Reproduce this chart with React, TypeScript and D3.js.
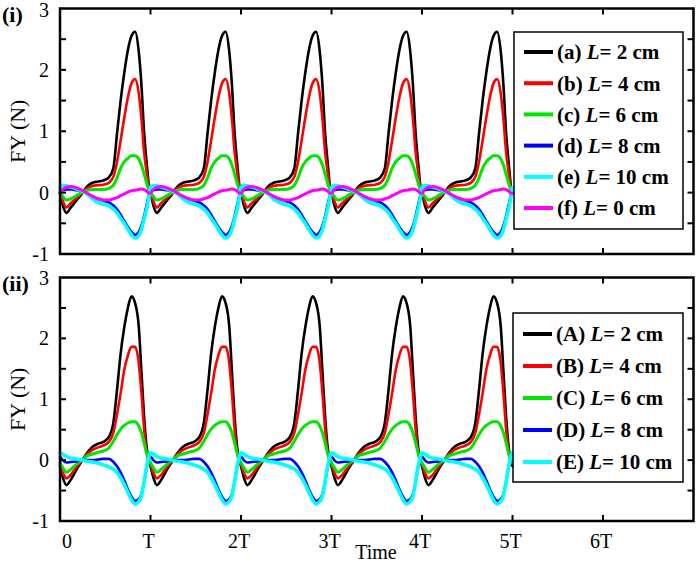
import * as d3 from 'd3'

// one period of each curve, repeated for every cycle
const PHASE = [0, 0.03, 0.07, 0.12, 0.18, 0.24, 0.3, 0.36, 0.42, 0.48, 0.54, 0.59, 0.63, 0.67, 0.71, 0.75, 0.79, 0.83, 0.87, 0.9, 0.93, 0.96, 0.985]
const CYCLES = 5

// panel (i)
const I_L2 = [0, -0.2, -0.33, -0.24, -0.13, -0.02, 0.1, 0.16, 0.18, 0.2, 0.25, 0.4, 0.96, 1.5, 1.95, 2.32, 2.55, 2.62, 2.3, 1.75, 0.96, 0.45, 0.08]
const I_L4 = [0, -0.13, -0.24, -0.17, -0.09, -0.01, 0.07, 0.11, 0.12, 0.13, 0.16, 0.26, 0.5, 0.85, 1.22, 1.55, 1.78, 1.85, 1.62, 1.2, 0.65, 0.3, 0.06]
const I_L6 = [0, -0.06, -0.12, -0.1, -0.05, 0, 0.04, 0.05, 0.05, 0.05, 0.07, 0.12, 0.24, 0.4, 0.5, 0.56, 0.6, 0.6, 0.55, 0.45, 0.3, 0.14, 0.03]
const I_L8 = [0.03, 0.04, 0.05, 0.05, 0.04, 0.03, -0.01, -0.06, -0.1, -0.13, -0.16, -0.21, -0.27, -0.36, -0.46, -0.56, -0.64, -0.69, -0.64, -0.54, -0.38, -0.18, -0.03]
const I_L10 = [0.08, 0.12, 0.11, 0.09, 0.06, 0.03, -0.02, -0.1, -0.16, -0.19, -0.22, -0.27, -0.33, -0.42, -0.5, -0.6, -0.69, -0.74, -0.7, -0.6, -0.43, -0.25, -0.05]
const I_L0 = [-0.01, 0.05, 0.09, 0.1, 0.08, 0.04, -0.01, -0.06, -0.1, -0.12, -0.12, -0.1, -0.08, -0.05, -0.02, 0.01, 0.03, 0.04, 0.05, 0.06, 0.05, 0.02, -0.01]

// panel (ii)
const II_L2 = [-0.1, -0.28, -0.41, -0.32, -0.16, -0.02, 0.12, 0.22, 0.27, 0.3, 0.38, 0.62, 1.15, 1.75, 2.18, 2.5, 2.69, 2.58, 2.2, 1.45, 0.7, 0.18, -0.02]
const II_L4 = [-0.07, -0.2, -0.3, -0.24, -0.12, -0.01, 0.1, 0.17, 0.21, 0.24, 0.3, 0.45, 0.75, 1.1, 1.48, 1.72, 1.86, 1.86, 1.6, 1.1, 0.5, 0.1, -0.03]
const II_L6 = [-0.04, -0.12, -0.2, -0.15, -0.07, 0, 0.07, 0.1, 0.13, 0.15, 0.2, 0.31, 0.42, 0.51, 0.57, 0.61, 0.63, 0.63, 0.56, 0.45, 0.28, 0.1, 0]
const II_L8 = [0.06, 0, -0.04, -0.03, -0.02, 0, 0, 0, 0.01, 0.02, 0.02, -0.03, -0.1, -0.2, -0.33, -0.48, -0.6, -0.67, -0.64, -0.56, -0.35, -0.1, 0.04]
const II_L10 = [0.12, 0.1, 0.06, 0.03, 0.02, 0, -0.02, -0.03, -0.05, -0.08, -0.11, -0.15, -0.2, -0.29, -0.4, -0.53, -0.65, -0.72, -0.68, -0.59, -0.35, -0.08, 0.07]

const X_TICKS = [1, 2, 3, 4, 5, 6]
const X_LABELS = ['0', 'T', '2T', '3T', '4T', '5T', '6T']
const Y_TICKS = [-0.5, 0, 0.5, 1, 1.5, 2, 2.5]
const Y_LABELS = [-1, 0, 1, 2, 3]

const W = 699
const H = 570
const FONT = '"Liberation Serif", "Times New Roman", serif'

interface Series { tag: string; len: number; values: number[]; color: string; width: number }

const PANEL_I: Series[] = [
  { tag: '(a)', len: 2, values: I_L2, color: '#000000', width: 2.6 },
  { tag: '(b)', len: 4, values: I_L4, color: '#ff0000', width: 2.6 },
  { tag: '(c)', len: 6, values: I_L6, color: '#00e600', width: 3 },
  { tag: '(d)', len: 8, values: I_L8, color: '#0000ff', width: 2.6 },
  { tag: '(e)', len: 10, values: I_L10, color: '#00ffff', width: 3.6 },
  { tag: '(f)', len: 0, values: I_L0, color: '#ff00ff', width: 3 },
]

const PANEL_II: Series[] = [
  { tag: '(A)', len: 2, values: II_L2, color: '#000000', width: 2.6 },
  { tag: '(B)', len: 4, values: II_L4, color: '#ff0000', width: 2.6 },
  { tag: '(C)', len: 6, values: II_L6, color: '#00e600', width: 3 },
  { tag: '(D)', len: 8, values: II_L8, color: '#0000ff', width: 2.6 },
  { tag: '(E)', len: 10, values: II_L10, color: '#00ffff', width: 3.6 },
]

function tile(values: number[]) {
  const pts: [number, number][] = []
  for (let k = 0; k < CYCLES; k++) {
    PHASE.forEach((p, i) => pts.push([k + p, values[i]]))
  }
  pts.push([CYCLES, values[0]])
  return pts
}

interface PanelProps {
  series: Series[]
  top: number
  bottom: number
  label: string
  legend: { x0: number; x1: number; y0: number; y1: number; first: number; step: number }
  xLabels: boolean
}

function Panel({ series, top, bottom, label, legend, xLabels }: PanelProps) {
  const x = d3.scaleLinear().domain([0, 7]).range([60, 693.5])
  const y = d3.scaleLinear().domain([-1, 3]).range([bottom, top])
  const line = d3.line<[number, number]>()
    .x(d => x(d[0]))
    .y(d => y(d[1]))
    .curve(d3.curveMonotoneX)
  const tk = 6

  return (
    <g>
      {series.map(s => (
        <path key={s.tag} d={line(tile(s.values)) || ''} fill="none" stroke={s.color}
          strokeWidth={s.width} strokeLinejoin="round" strokeLinecap="round" />
      ))}

      {/* frame + inward ticks */}
      <rect x={x(0)} y={top} width={x(7) - x(0)} height={bottom - top} fill="none" stroke="#000" strokeWidth={2.5} />
      {X_TICKS.map(t => (
        <g key={'x' + t}>
          <line x1={x(t)} x2={x(t)} y1={bottom} y2={bottom - tk} stroke="#000" strokeWidth={2} />
          <line x1={x(t)} x2={x(t)} y1={top} y2={top + tk} stroke="#000" strokeWidth={2} />
        </g>
      ))}
      {Y_TICKS.map(t => (
        <g key={'y' + t}>
          <line x1={x(0)} x2={x(0) + tk} y1={y(t)} y2={y(t)} stroke="#000" strokeWidth={2} />
          <line x1={x(7)} x2={x(7) - tk} y1={y(t)} y2={y(t)} stroke="#000" strokeWidth={2} />
        </g>
      ))}
      {Y_LABELS.map(v => (
        <text key={'yl' + v} x={49} y={Math.max(y(v), 10)} dy="0.35em" textAnchor="end" fontSize={20} fontFamily={FONT}>{v}</text>
      ))}
      {xLabels && X_LABELS.map((l, i) => (
        <text key={'xl' + l} x={i === 0 ? x(i) + 7 : x(i) - 2} y={bottom + 27} textAnchor="middle" fontSize={20} fontFamily={FONT}>{l}</text>
      ))}

      <text transform={`translate(25,${y(1)}) rotate(-90)`} textAnchor="middle" fontSize={22} fontFamily={FONT}>FY (N)</text>
      <text x={2} y={top + 13} fontSize={22} fontWeight="bold" fontFamily={FONT}>{label}</text>

      {/* legend */}
      <rect x={legend.x0} y={legend.y0} width={legend.x1 - legend.x0} height={legend.y1 - legend.y0}
        fill="#fff" stroke="#000" strokeWidth={1.5} />
      {series.map((s, i) => {
        const ly = legend.first + i * legend.step
        return (
          <g key={'lg' + s.tag}>
            <line x1={legend.x0 + 10} x2={legend.x0 + 39} y1={ly} y2={ly} stroke={s.color} strokeWidth={4} />
            <text x={legend.x0 + 43} y={ly} dy="0.35em" fontSize={21} fontWeight="bold" fontFamily={FONT}>
              {s.tag} <tspan fontStyle="italic">L</tspan>= {s.len} cm
            </text>
          </g>
        )
      })}
    </g>
  )
}

export default function App() {
  return (
    <svg width={W} height={H} style={{ position: 'absolute', left: 0, top: 0, background: '#fff' }}>
      <Panel series={PANEL_I} top={8.5} bottom={254} label="(i)" xLabels={false}
        legend={{ x0: 514, x1: 683, y0: 32, y1: 229, first: 52, step: 31.2 }} />
      <Panel series={PANEL_II} top={277.5} bottom={521} label="(ii)" xLabels={true}
        legend={{ x0: 513, x1: 683, y0: 313, y1: 482, first: 334, step: 32 }} />
      <text x={376} y={559} textAnchor="middle" fontSize={20} fontFamily={FONT}>Time</text>
    </svg>
  )
}
